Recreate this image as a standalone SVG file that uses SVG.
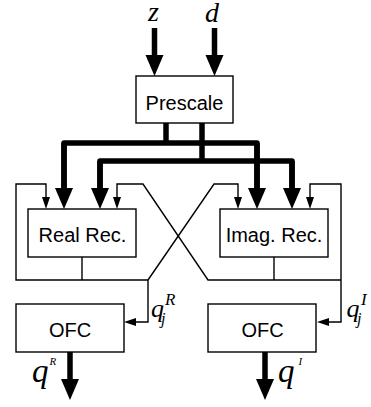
<svg xmlns="http://www.w3.org/2000/svg" width="371" height="407" viewBox="0 0 371 407">
<defs>
<marker id="big" markerUnits="userSpaceOnUse" markerWidth="22" markerHeight="20" refX="0" refY="9" orient="auto" viewBox="0 0 22 18">
<path d="M0,0 L21,9 L0,18 z" fill="#000"/>
</marker>
<marker id="small" markerUnits="userSpaceOnUse" markerWidth="12" markerHeight="8" refX="0" refY="4" orient="auto" viewBox="0 0 12 8">
<path d="M0,0 L12,4 L0,8 z" fill="#000"/>
</marker>
</defs>
<style>
.box{fill:#fff;stroke:#000;stroke-width:1.4}
.lbl{font-family:"Liberation Sans",Arial,sans-serif;font-size:20px;fill:#000;text-anchor:middle}
.math{font-family:"Liberation Serif","Times New Roman",serif;font-style:italic;fill:#000}
.thick{fill:none;stroke:#000;stroke-width:5.5;stroke-linejoin:round}
.thin{fill:none;stroke:#000;stroke-width:1.4;stroke-linejoin:miter}
</style>
<rect width="371" height="407" fill="#fff"/>
<g id="connectors">
<path class="thick" d="M154.5,28 V55" marker-end="url(#big)"/>
<path class="thick" d="M214.5,28 V55" marker-end="url(#big)"/>
<path class="thick" d="M166,123 V143"/>
<path class="thick" d="M64,188 V143 H257 V188" />
<path class="thick" d="M64,143 V188" marker-end="url(#big)"/>
<path class="thick" d="M257,143 V188" marker-end="url(#big)"/>
<path class="thick" d="M202,123 V161"/>
<path class="thick" d="M100,188 V161 H292 V188"/>
<path class="thick" d="M100,161 V188" marker-end="url(#big)"/>
<path class="thick" d="M292,161 V188" marker-end="url(#big)"/>
<path class="thick" d="M70,352 V379" marker-end="url(#big)"/>
<path class="thick" d="M265,352 V379" marker-end="url(#big)"/>
<path class="thin" d="M82,257 V280"/>
<path class="thin" d="M274,257 V280"/>
<path class="thin" d="M148,280 H16 V184 H46 V197" marker-end="url(#small)"/>
<path class="thin" d="M148,280 L214,184 H238 V197" marker-end="url(#small)"/>
<path class="thin" d="M148,280 V322 H136" marker-end="url(#small)"/>
<path class="thin" d="M341,280 H208 L143,184 H117 V197" marker-end="url(#small)"/>
<path class="thin" d="M341,280 V184 H310 V197" marker-end="url(#small)"/>
<path class="thin" d="M341,280 V322 H329" marker-end="url(#small)"/>
</g>
<g id="prescale">
<rect class="box" x="136" y="76" width="97" height="47"/>
<text class="lbl" x="184.5" y="110">Prescale</text>
</g>
<g id="real-rec">
<rect class="box" x="28" y="209" width="108" height="48"/>
<text class="lbl" x="82.5" y="241.5">Real Rec.</text>
</g>
<g id="imag-rec">
<rect class="box" x="220" y="209" width="108" height="48"/>
<text class="lbl" x="274" y="241.5">Imag. Rec.</text>
</g>
<g id="ofc-r">
<rect class="box" x="16" y="304" width="108" height="48"/>
<text class="lbl" x="70" y="336.5">OFC</text>
</g>
<g id="ofc-i">
<rect class="box" x="208" y="304" width="108" height="48"/>
<text class="lbl" x="262.5" y="336.5">OFC</text>
</g>
<g id="labels">
<text class="math" x="148" y="21" font-size="28">z</text>
<text class="math" x="205" y="21.5" font-size="28">d</text>
<text class="math" font-size="26"><tspan x="151" y="317">q</tspan><tspan x="161" y="324" font-size="16">j</tspan><tspan x="165" y="305" font-size="17">R</tspan></text>
<text class="math" font-size="26"><tspan x="346.5" y="317">q</tspan><tspan x="357" y="324" font-size="16">j</tspan><tspan x="361" y="305" font-size="17">I</tspan></text>
<text class="math" font-size="33"><tspan x="32" y="382">q</tspan><tspan x="49.5" y="364.5" font-size="11">R</tspan></text>
<text class="math" font-size="33"><tspan x="278" y="382">q</tspan><tspan x="298.5" y="365" font-size="11">I</tspan></text>
</g>
</svg>
